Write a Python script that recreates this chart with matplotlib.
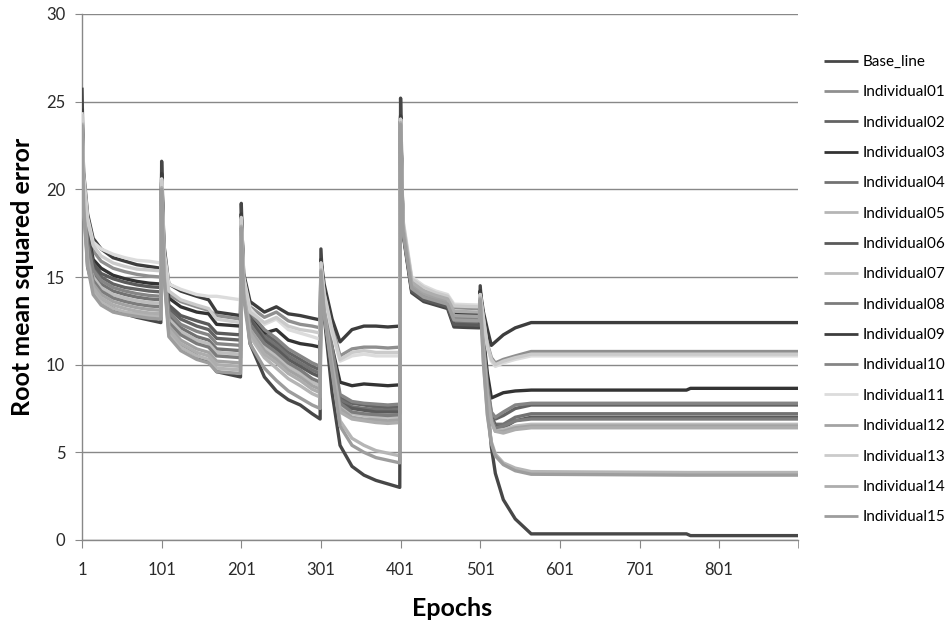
import matplotlib
matplotlib.use("Agg")
import matplotlib.pyplot as plt

# ---- data ----
EPOCHS = [1, 3, 8, 15, 25, 40, 55, 70, 85, 100,
          101, 104, 110, 125, 145, 160, 170, 185, 200,
          201, 204, 212, 230, 245, 260, 275, 290, 300,
          301, 305, 315, 325, 340, 355, 370, 385, 400,
          401, 404, 415, 430, 445, 460, 468, 485, 500,
          501, 505, 510, 515, 520, 530, 545, 565, 760, 765, 900]

BASE_LINE = [25.8, 20.5, 15.6, 14.3, 13.6, 13.2, 12.9, 12.7, 12.55, 12.4,
             21.6, 16.2, 12.0, 11.1, 10.5, 10.2, 9.6, 9.45, 9.3,
             19.2, 14.5, 11.2, 9.3, 8.5, 8.0, 7.7, 7.2, 6.9,
             16.6, 12.8, 8.4, 5.4, 4.2, 3.7, 3.4, 3.2, 3.0,
             25.2, 17.5, 14.1, 13.6, 13.4, 13.2, 12.15, 12.12, 12.1,
             14.5, 11.8, 7.8, 5.3, 3.8, 2.3, 1.2, 0.35, 0.35, 0.25, 0.25]
IND01 = [24.3, 20.5, 18.0, 16.5, 15.9, 15.5, 15.3, 15.15, 15.05, 15.0,
         20.6, 16.4, 14.0, 13.6, 13.3, 13.1, 12.8, 12.7, 12.6,
         18.5, 15.0, 13.3, 12.7, 13.0, 12.5, 12.3, 12.2, 12.1,
         15.9, 14.2, 12.2, 10.5, 10.9, 11.0, 11.0, 10.95, 11.0,
         24.0, 18.0, 14.85, 14.35, 14.1, 13.9, 13.25, 13.22, 13.2,
         14.0, 12.8, 11.2, 10.4, 10.1, 10.3, 10.5, 10.75, 10.75, 10.75, 10.75]
IND02 = [24.1, 19.8, 17.1, 15.6, 15.0, 14.6, 14.4, 14.3, 14.2, 14.15,
         20.4, 15.8, 13.2, 12.6, 12.2, 12.0, 11.5, 11.45, 11.4,
         18.2, 14.7, 12.9, 11.8, 11.3, 10.7, 10.3, 9.9, 9.7,
         15.7, 13.5, 10.8, 8.1, 7.8, 7.7, 7.6, 7.55, 7.6,
         23.9, 17.7, 14.4, 13.9, 13.65, 13.45, 12.55, 12.52, 12.5,
         14.0, 11.1, 8.7, 7.2, 6.9, 7.1, 7.5, 7.7, 7.7, 7.7, 7.7]
IND03 = [24.4, 20.2, 17.6, 16.0, 15.5, 15.1, 14.9, 14.75, 14.65, 14.6,
         20.7, 16.2, 13.8, 13.3, 13.0, 12.9, 12.3, 12.25, 12.2,
         18.4, 14.8, 12.6, 11.8, 12.0, 11.4, 11.2, 11.1, 11.0,
         15.9, 13.8, 11.0, 9.0, 8.8, 8.9, 8.85, 8.8, 8.85,
         24.1, 17.7, 14.3, 13.8, 13.6, 13.4, 12.45, 12.42, 12.4,
         14.2, 11.6, 9.5, 8.1, 8.2, 8.4, 8.5, 8.55, 8.55, 8.65, 8.65]
IND04 = [24.0, 19.5, 16.7, 15.2, 14.6, 14.2, 14.0, 13.85, 13.75, 13.7,
         20.3, 15.6, 12.8, 12.1, 11.6, 11.4, 10.9, 10.85, 10.8,
         18.1, 14.5, 12.6, 11.6, 11.1, 10.5, 10.1, 9.7, 9.5,
         15.6, 13.4, 10.6, 8.0, 7.6, 7.5, 7.45, 7.4, 7.45,
         23.8, 17.6, 14.25, 13.75, 13.55, 13.35, 12.4, 12.37, 12.35,
         13.9, 11.0, 8.6, 7.0, 6.6, 6.6, 7.0, 7.2, 7.2, 7.2, 7.2]
IND05 = [23.7, 19.0, 15.8, 14.2, 13.6, 13.2, 13.0, 12.9, 12.8, 12.75,
         20.0, 15.1, 11.8, 11.0, 10.5, 10.3, 9.8, 9.75, 9.7,
         17.8, 14.0, 11.6, 10.4, 9.8, 9.2, 8.8, 8.35, 8.15,
         15.3, 13.0, 9.8, 6.8, 5.8, 5.4, 5.1, 4.95, 4.8,
         23.7, 17.7, 14.4, 13.9, 13.7, 13.5, 12.65, 12.62, 12.6,
         13.8, 10.2, 7.2, 5.6, 4.9, 4.4, 4.1, 3.9, 3.85, 3.85, 3.85]
IND06 = [24.2, 20.0, 17.3, 15.8, 15.2, 14.9, 14.7, 14.55, 14.45, 14.4,
         20.4, 15.9, 13.4, 12.8, 12.5, 12.3, 11.8, 11.75, 11.7,
         18.2, 14.6, 12.6, 11.4, 10.9, 10.3, 9.9, 9.5, 9.3,
         15.7, 13.4, 10.6, 7.8, 7.5, 7.4, 7.3, 7.3, 7.3,
         23.9, 17.6, 14.2, 13.7, 13.5, 13.3, 12.3, 12.27, 12.25,
         13.9, 11.0, 8.6, 7.0, 6.5, 6.4, 6.8, 7.0, 7.0, 7.0, 7.0]
IND07 = [23.9, 19.4, 16.5, 15.0, 14.4, 14.0, 13.8, 13.65, 13.55, 13.5,
         20.2, 15.5, 12.6, 11.9, 11.4, 11.2, 10.7, 10.65, 10.6,
         18.0, 14.3, 12.2, 11.0, 10.5, 9.9, 9.5, 9.0, 8.8,
         15.5, 13.2, 10.3, 7.6, 7.2, 7.1, 7.0, 7.0, 7.0,
         23.8, 17.9, 14.65, 14.15, 13.9, 13.7, 12.95, 12.92, 12.9,
         13.9, 11.0, 8.5, 6.9, 6.3, 6.3, 6.5, 6.6, 6.6, 6.6, 6.6]
IND08 = [23.9, 19.3, 16.3, 14.8, 14.2, 13.8, 13.6, 13.45, 13.35, 13.3,
         20.2, 15.4, 12.4, 11.7, 11.2, 11.0, 10.5, 10.45, 10.4,
         18.0, 14.4, 12.3, 11.2, 10.7, 10.1, 9.7, 9.2, 9.0,
         15.5, 13.3, 10.4, 7.8, 7.3, 7.2, 7.15, 7.1, 7.15,
         23.8, 17.8, 14.45, 13.95, 13.7, 13.5, 12.65, 12.62, 12.6,
         13.9, 11.0, 8.5, 6.9, 6.4, 6.5, 6.8, 6.9, 6.9, 6.9, 6.9]
IND09 = [24.6, 21.0, 18.6, 17.2, 16.6, 16.1, 15.9, 15.7, 15.6, 15.5,
         20.9, 16.8, 14.6, 14.2, 13.9, 13.7, 13.0, 12.9, 12.8,
         18.6, 15.2, 13.6, 13.0, 13.3, 12.9, 12.8, 12.65, 12.55,
         16.0, 14.6, 12.6, 11.3, 12.0, 12.2, 12.2, 12.15, 12.2,
         24.2, 18.0, 14.6, 14.1, 13.85, 13.65, 12.9, 12.87, 12.85,
         14.2, 13.0, 12.0, 11.1, 11.3, 11.7, 12.1, 12.4, 12.4, 12.4, 12.4]
IND10 = [24.0, 19.6, 16.9, 15.4, 14.8, 14.4, 14.2, 14.05, 13.95, 13.9,
         20.3, 15.7, 13.0, 12.3, 11.9, 11.7, 11.2, 11.15, 11.1,
         18.1, 14.8, 13.0, 12.0, 11.5, 10.9, 10.5, 10.1, 9.9,
         15.6, 13.6, 11.0, 8.3, 7.9, 7.8, 7.75, 7.7, 7.75,
         23.9, 17.8, 14.5, 14.0, 13.75, 13.55, 12.75, 12.72, 12.7,
         14.0, 11.3, 8.9, 7.3, 7.0, 7.3, 7.7, 7.8, 7.8, 7.8, 7.8]
IND11 = [24.4, 20.8, 18.4, 17.0, 16.6, 16.3, 16.1, 15.95, 15.9, 15.8,
         20.6, 16.5, 14.6, 14.3, 14.0, 13.9, 13.9, 13.8, 13.7,
         18.3, 15.0, 13.2, 12.3, 12.6, 12.0, 11.8, 11.6, 11.45,
         15.8, 14.0, 11.8, 10.2, 10.5, 10.6, 10.5, 10.5, 10.5,
         24.0, 18.3, 15.0, 14.5, 14.2, 14.0, 13.45, 13.42, 13.4,
         14.0, 12.6, 11.0, 10.2, 9.9, 10.1, 10.3, 10.5, 10.5, 10.5, 10.5]
IND12 = [23.8, 19.2, 16.1, 14.6, 14.0, 13.6, 13.4, 13.25, 13.15, 13.1,
         20.1, 15.3, 12.2, 11.4, 10.9, 10.7, 10.2, 10.15, 10.1,
         17.9, 14.2, 12.0, 10.8, 10.3, 9.7, 9.3, 8.8, 8.6,
         15.4, 13.1, 10.1, 7.5, 7.0, 6.9, 6.85, 6.8, 6.85,
         23.8, 17.8, 14.55, 14.05, 13.8, 13.6, 12.8, 12.77, 12.75,
         13.8, 10.9, 8.4, 6.8, 6.2, 6.2, 6.4, 6.5, 6.5, 6.5, 6.5]
IND13 = [24.3, 20.6, 18.2, 16.8, 16.2, 15.8, 15.6, 15.45, 15.4, 15.35,
         20.5, 16.3, 14.2, 13.7, 13.4, 13.2, 12.6, 12.5, 12.4,
         18.4, 14.9, 13.0, 12.4, 12.7, 12.2, 12.0, 11.9, 11.8,
         15.8, 14.1, 12.0, 10.3, 10.7, 10.8, 10.7, 10.7, 10.7,
         24.0, 18.2, 14.9, 14.4, 14.1, 13.9, 13.35, 13.32, 13.3,
         14.0, 12.7, 11.1, 10.3, 10.0, 10.2, 10.4, 10.6, 10.6, 10.6, 10.6]
IND14 = [23.8, 19.1, 15.9, 14.4, 13.8, 13.4, 13.2, 13.05, 12.95, 12.9,
         20.1, 15.2, 12.0, 11.2, 10.7, 10.5, 10.0, 9.95, 9.9,
         17.9, 14.1, 11.8, 10.6, 10.1, 9.5, 9.1, 8.6, 8.4,
         15.4, 13.0, 10.0, 7.3, 6.9, 6.8, 6.7, 6.65, 6.7,
         23.8, 18.0, 14.7, 14.2, 13.95, 13.75, 13.05, 13.02, 13.0,
         13.8, 10.9, 8.3, 6.7, 6.2, 6.1, 6.3, 6.4, 6.4, 6.4, 6.4]
IND15 = [23.7, 18.9, 15.6, 14.0, 13.4, 13.0, 12.85, 12.75, 12.65, 12.6,
         20.0, 15.0, 11.6, 10.8, 10.3, 10.1, 9.6, 9.55, 9.5,
         17.8, 13.8, 11.2, 9.8, 9.1, 8.5, 8.1, 7.7, 7.5,
         15.3, 12.9, 9.6, 6.5, 5.4, 5.0, 4.7, 4.55, 4.4,
         23.7, 17.6, 14.35, 13.85, 13.65, 13.45, 12.55, 12.52, 12.5,
         13.7, 10.1, 7.1, 5.5, 4.8, 4.3, 3.95, 3.75, 3.7, 3.7, 3.7]

SERIES_NAMES = ["Base_line"] + ["Individual%02d" % i for i in range(1, 16)]
SERIES_VALUES = [BASE_LINE, IND01, IND02, IND03, IND04, IND05, IND06, IND07,
                 IND08, IND09, IND10, IND11, IND12, IND13, IND14, IND15]
SERIES_COLORS = ["#474747", "#8f8f8f", "#636363", "#333333", "#727272",
                 "#b5b5b5", "#5a5a5a", "#bdbdbd", "#7c7c7c", "#3d3d3d",
                 "#858585", "#dcdcdc", "#a3a3a3", "#cbcbcb", "#adadad",
                 "#9d9d9d"]

X_TICKS = [1, 101, 201, 301, 401, 501, 601, 701, 801]
Y_TICKS = [0, 5, 10, 15, 20, 25, 30]

for v in SERIES_VALUES:
    assert len(v) == len(EPOCHS)

plt.rcParams['font.family'] = ['Lato', 'DejaVu Sans']

fig = plt.figure(figsize=(9.49, 6.28), dpi=100)
ax = fig.add_axes([82 / 949, 1 - 540 / 628, (798 - 82) / 949, (540 - 14) / 628])

for name, vals, col in zip(SERIES_NAMES, SERIES_VALUES, SERIES_COLORS):
    ax.plot(EPOCHS, vals, color=col, lw=2.4, label=name,
            solid_joinstyle='round', solid_capstyle='butt', zorder=3)

ax.set_xlim(1, 900)
ax.set_ylim(0, 30)
ax.set_yticks(Y_TICKS)
ax.set_xticks(X_TICKS)
ax.set_xticks([900], minor=True)
ax.grid(axis='y', color='#888888', lw=1.0, zorder=0)
ax.set_axisbelow(True)

for s in ['top', 'right']:
    ax.spines[s].set_visible(False)
for s in ['left', 'bottom']:
    ax.spines[s].set_color('#888888')
    ax.spines[s].set_linewidth(1.0)

ax.tick_params(axis='x', which='both', direction='out', length=6, color='#888888',
               labelsize=12, pad=10, labelcolor='#2a2a2a')
ax.tick_params(axis='y', direction='out', length=5, color='#888888',
               labelsize=12, pad=7, labelcolor='#2a2a2a')

ax.set_xlabel("Epochs", fontsize=18, fontweight='bold', va='center')
ax.xaxis.set_label_coords((452 - 82) / 716, (540 - 608) / 526)
ax.set_ylabel("Root mean squared error", fontsize=18, fontweight='bold', va='center')
ax.yaxis.set_label_coords((22 - 82) / 716, 0.5)

leg = ax.legend(loc='upper left', bbox_to_anchor=(824 / 949, 1 - 55 / 628),
                bbox_transform=fig.transFigure, frameon=False, fontsize=11,
                handlelength=2.2, handletextpad=0.3, labelspacing=1.07,
                borderaxespad=0, borderpad=0)
for h in leg.get_lines():
    h.set_linewidth(2.0)

fig.savefig("out.png", dpi=100)
